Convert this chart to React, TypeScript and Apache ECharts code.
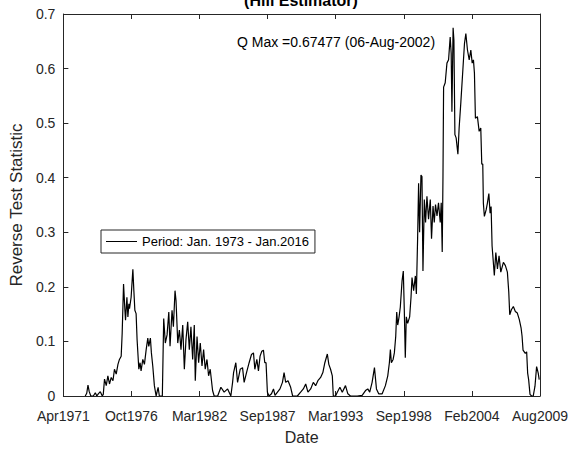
import React, { useEffect, useRef } from "react";
import * as echarts from "echarts";

const TITLE = "(Hill Estimator)";
const ANNOTATION = "Q Max =0.67477 (06-Aug-2002)";
const SERIES_NAME = "Period: Jan. 1973 - Jan.2016";
const X_NAME = "Date";
const Y_NAME = "Reverse Test Statistic";

const X_TICK_LABELS = ["Apr1971", "Oct1976", "Mar1982", "Sep1987", "Mar1993", "Sep1998", "Feb2004", "Aug2009"];
const X_START = 1971 + 3 / 12; // Apr 1971
const X_END = 2009 + 7 / 12; // Aug 2009
const Y_MIN = 0;
const Y_MAX = 0.7;
const Y_STEP = 0.1;

// decimal years
const YEARS = [
  1973.01, 1973.13, 1973.23, 1973.33, 1973.46, 1973.66, 1973.82, 1973.94, 1974.06, 1974.22,
  1974.38, 1974.46, 1974.56, 1974.70, 1974.83, 1974.96, 1975.10, 1975.24, 1975.36, 1975.50,
  1975.64, 1975.76, 1975.90, 1975.98, 1976.09, 1976.20, 1976.25, 1976.36, 1976.44, 1976.52,
  1976.57, 1976.70, 1976.84, 1976.92, 1977.00, 1977.10, 1977.18, 1977.32, 1977.42, 1977.50,
  1977.64, 1977.77, 1977.91, 1978.04, 1978.12, 1978.25, 1978.33, 1978.44, 1978.57, 1978.71,
  1978.87, 1978.97, 1979.21, 1979.32, 1979.45, 1979.59, 1979.73, 1979.83, 1979.99, 1980.10,
  1980.23, 1980.31, 1980.45, 1980.58, 1980.71, 1980.85, 1980.98, 1981.11, 1981.25, 1981.38,
  1981.51, 1981.65, 1981.78, 1981.86, 1982.00, 1982.13, 1982.26, 1982.40, 1982.53, 1982.66,
  1982.80, 1982.93, 1983.06, 1983.25, 1983.38, 1983.66, 1983.92, 1984.18, 1984.46, 1984.72,
  1984.86, 1984.94, 1985.12, 1985.26, 1985.47, 1985.66, 1985.79, 1985.98, 1986.19, 1986.38,
  1986.54, 1986.65, 1986.81, 1986.94, 1987.07, 1987.21, 1987.34, 1987.45, 1987.55, 1987.66,
  1987.79, 1987.99, 1988.15, 1988.27, 1988.47, 1988.67, 1988.87, 1989.00, 1989.13, 1989.32,
  1989.53, 1989.69, 1990.07, 1990.33, 1990.55, 1990.74, 1990.92, 1991.14, 1991.35, 1991.54,
  1991.72, 1991.94, 1992.12, 1992.28, 1992.48, 1992.60, 1992.74, 1992.88, 1992.96, 1993.14,
  1993.28, 1993.49, 1993.68, 1993.94, 1994.13, 1994.34, 1994.88, 1995.28, 1995.55, 1995.73,
  1995.89, 1996.08, 1996.27, 1996.43, 1996.61, 1996.89, 1997.15, 1997.34, 1997.47, 1997.55,
  1997.63, 1997.77, 1997.87, 1997.98, 1998.06, 1998.14, 1998.25, 1998.35, 1998.49, 1998.59,
  1998.67, 1998.75, 1998.83, 1998.94, 1999.10, 1999.21, 1999.29, 1999.42, 1999.56, 1999.64,
  1999.74, 1999.82, 1999.90, 2000.01, 2000.09, 2000.17, 2000.28, 2000.38, 2000.49, 2000.62,
  2000.76, 2000.86, 2000.98, 2001.08, 2001.18, 2001.30, 2001.42, 2001.56, 2001.64, 2001.72,
  2001.78, 2001.83, 2001.96, 2002.10, 2002.23, 2002.36, 2002.44, 2002.50, 2002.595, 2002.66,
  2002.74, 2002.84, 2002.98, 2003.08, 2003.22, 2003.38, 2003.51, 2003.62, 2003.75, 2003.89,
  2004.02, 2004.13, 2004.23, 2004.31, 2004.39, 2004.55, 2004.69, 2004.82, 2004.90, 2004.98,
  2005.03, 2005.11, 2005.25, 2005.35, 2005.47, 2005.57, 2005.65, 2005.73, 2005.83, 2005.91,
  2006.03, 2006.16, 2006.29, 2006.43, 2006.64, 2006.80, 2006.96, 2007.07, 2007.15, 2007.28,
  2007.44, 2007.60, 2007.76, 2007.92, 2008.06, 2008.14, 2008.22, 2008.40, 2008.51, 2008.59,
  2008.67, 2008.78, 2008.91, 2009.04, 2009.18, 2009.31, 2009.44, 2009.52,
];

const VALUES = [
  0, 0.005, 0.02, 0.008, 0, 0, 0.006, 0, 0.004, 0.008,
  0, 0.003, 0.031, 0.019, 0.037, 0.022, 0.034, 0.028, 0.049, 0.040,
  0.058, 0.067, 0.073, 0.115, 0.205, 0.157, 0.139, 0.181, 0.145, 0.169,
  0.160, 0.181, 0.232, 0.193, 0.157, 0.151, 0.103, 0.049, 0.061, 0.046,
  0.067, 0.058, 0.085, 0.106, 0.091, 0.106, 0.079, 0.055, 0.019, 0,
  0.016, 0, 0, 0.142, 0.097, 0.112, 0.154, 0.091, 0.157, 0.127,
  0.193, 0.175, 0.097, 0.121, 0.085, 0.130, 0.049, 0.103, 0.136, 0.085,
  0.127, 0.067, 0.130, 0.028, 0.109, 0.061, 0.097, 0.055, 0.085, 0.049,
  0.067, 0.037, 0.049, 0.010, 0, 0, 0.016, 0.007, 0.013, 0,
  0.025, 0.043, 0.061, 0.025, 0.049, 0.052, 0.025, 0.043, 0.061, 0.076,
  0.079, 0.049, 0.067, 0.046, 0.073, 0.082, 0.084, 0.061, 0.061, 0.007,
  0, 0.004, 0.013, 0.001, 0.007, 0.013, 0.025, 0.043, 0.025, 0.028,
  0.016, 0, 0, 0.007, 0.013, 0.022, 0.007, 0.013, 0.025, 0.019,
  0.028, 0.034, 0.043, 0.061, 0.077, 0.058, 0.049, 0.037, 0, 0,
  0.007, 0.016, 0.007, 0.019, 0.004, 0, 0, 0.001, 0.010, 0.013,
  0.007, 0.025, 0.052, 0.013, 0.004, 0.004, 0.019, 0.037, 0.061, 0.085,
  0.061, 0.067, 0.079, 0.109, 0.154, 0.130, 0.145, 0.163, 0.211, 0.229,
  0.157, 0.070, 0.145, 0.133, 0.145, 0.181, 0.217, 0.193, 0.220, 0.187,
  0.288, 0.390, 0.300, 0.405, 0.402, 0.229, 0.360, 0.318, 0.366, 0.324,
  0.360, 0.288, 0.348, 0.318, 0.351, 0.330, 0.354, 0.318, 0.354, 0.264,
  0.402, 0.566, 0.574, 0.610, 0.616, 0.658, 0.628, 0.521, 0.67477, 0.652,
  0.479, 0.473, 0.443, 0.491, 0.539, 0.598, 0.646, 0.664, 0.634, 0.616,
  0.634, 0.610, 0.616, 0.592, 0.509, 0.512, 0.485, 0.491, 0.425, 0.425,
  0.353, 0.329, 0.341, 0.353, 0.371, 0.335, 0.347, 0.275, 0.245, 0.221,
  0.263, 0.233, 0.257, 0.227, 0.245, 0.239, 0.227, 0.191, 0.149, 0.158,
  0.164, 0.155, 0.152, 0.140, 0.125, 0.110, 0.084, 0.078, 0.081, 0.042,
  0.030, 0.003, 0, 0, 0.018, 0.054, 0.042, 0.030,
];

const FONT = "Arial, 'Liberation Sans', Helvetica, sans-serif";
const AXIS_COLOR = "#262626";

export default function App() {
  const ref = useRef<HTMLDivElement | null>(null);

  useEffect(() => {
    if (!ref.current) return;
    const chart = echarts.init(ref.current, undefined, { renderer: "svg" });
    const nTicks = X_TICK_LABELS.length - 1;
    const step = (X_END - X_START) / nTicks;
    const data = YEARS.map((y, i) => [(y - X_START) / step, VALUES[i]]);

    const axisLine = { show: true, onZero: false, lineStyle: { color: AXIS_COLOR, width: 1 } };
    const axisTick = { show: true, inside: true, length: 5, lineStyle: { color: AXIS_COLOR, width: 1 } };

    const option: any = {
      animation: false,
      backgroundColor: "#ffffff",
      grid: { left: 62, right: 35, top: 14, bottom: 46, containLabel: false },
      legend: {
        show: true,
        left: 101,
        top: 230,
        padding: [5, 6, 5, 5],
        itemWidth: 31,
        itemHeight: 1,
        itemGap: 5,
        borderColor: AXIS_COLOR,
        borderWidth: 1,
        backgroundColor: "#ffffff",
        textStyle: { fontSize: 13, color: "#000000", fontFamily: FONT, padding: [0, 0, 0, 0] },
        data: [{ name: SERIES_NAME, icon: "rect", itemStyle: { color: "#000000" } }],
      },
      xAxis: [
        {
          type: "value",
          position: "bottom",
          min: 0,
          max: nTicks,
          interval: 1,
          name: X_NAME,
          nameLocation: "middle",
          nameGap: 33,
          nameTextStyle: { fontSize: 16, color: AXIS_COLOR, fontFamily: FONT },
          axisLine,
          axisTick,
          axisLabel: {
            formatter: (v: number) => X_TICK_LABELS[Math.round(v)] ?? "",
            fontSize: 14,
            color: AXIS_COLOR,
            fontFamily: FONT,
            margin: 13,
          },
          splitLine: { show: false },
        },
        {
          type: "value",
          position: "top",
          min: 0,
          max: nTicks,
          interval: 1,
          axisLine,
          axisTick,
          axisLabel: { show: false },
          splitLine: { show: false },
        },
      ],
      yAxis: [
        {
          type: "value",
          position: "left",
          min: Y_MIN,
          max: Y_MAX,
          interval: Y_STEP,
          name: Y_NAME,
          nameLocation: "middle",
          nameGap: 32,
          nameRotate: 90,
          nameTextStyle: { fontSize: 17, color: AXIS_COLOR, fontFamily: FONT },
          axisLine,
          axisTick,
          axisLabel: {
            formatter: (v: number) => (v === 0 ? "0" : v.toFixed(1)),
            fontSize: 14,
            color: AXIS_COLOR,
            fontFamily: FONT,
            margin: 8,
          },
          splitLine: { show: false },
        },
        {
          type: "value",
          position: "right",
          min: Y_MIN,
          max: Y_MAX,
          interval: Y_STEP,
          axisLine,
          axisTick,
          axisLabel: { show: false },
          splitLine: { show: false },
        },
      ],
      series: [
        {
          type: "line",
          name: SERIES_NAME,
          data,
          xAxisIndex: 0,
          yAxisIndex: 0,
          showSymbol: false,
          symbol: "none",
          lineStyle: { color: "#000000", width: 1.2 },
          itemStyle: { color: "#000000" },
        },
      ],
      graphic: [
        {
          type: "text",
          x: 301,
          y: 0,
          style: {
            text: TITLE,
            fill: "#000000",
            font: `bold 16px ${FONT}`,
            textAlign: "center",
            textVerticalAlign: "middle",
          },
        },
        {
          type: "text",
          x: 237,
          y: 41.5,
          style: {
            text: ANNOTATION,
            fill: "#000000",
            font: `14px ${FONT}`,
            textAlign: "left",
            textVerticalAlign: "middle",
          },
        },
      ],
    };

    chart.setOption(option);
    return () => chart.dispose();
  }, []);

  return (
    <div
      ref={ref}
      style={{ position: "absolute", left: 0, top: 0, width: 575, height: 450 }}
    />
  );
}
